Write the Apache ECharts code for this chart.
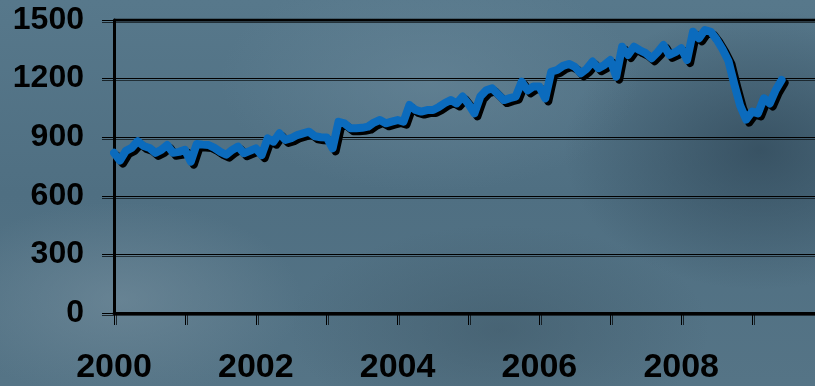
<!DOCTYPE html>
<html>
<head>
<meta charset="utf-8">
<script src="https://cdn.jsdelivr.net/npm/echarts@6/dist/echarts.min.js"></script>
<style>
html,body{margin:0;padding:0;}
body{width:815px;height:386px;overflow:hidden;
background:
 radial-gradient(ellipse 260px 140px at 120px 300px, rgba(120,145,160,0.55), rgba(120,145,160,0) 70%),
 radial-gradient(ellipse 300px 160px at 430px 80px, rgba(110,140,158,0.45), rgba(110,140,158,0) 70%),
 radial-gradient(ellipse 280px 200px at 760px 150px, rgba(40,62,78,0.6), rgba(40,62,78,0) 70%),
 radial-gradient(ellipse 300px 150px at 500px 330px, rgba(60,85,100,0.5), rgba(60,85,100,0) 70%),
 linear-gradient(180deg, #57788b 0%, #4f6f82 50%, #557486 100%);}
#chart{width:815px;height:386px;}
</style>
</head>
<body>
<div id="chart"></div>
<script>
const startYear = 2000;
const yTicks = [0, 300, 600, 900, 1200, 1500];
const xLabelYears = [2000, 2002, 2004, 2006, 2008];
// monthly values from Jan 2000 to Jun 2009
const values = [
 820, 780, 830, 845, 880, 855, 845, 820, 835, 860, 820, 825,
 835, 775, 865, 862, 860, 845, 825, 810, 835, 852, 818, 830,
 843, 809, 894, 877, 920, 886, 895, 911, 920, 928, 905, 900,
 899, 843, 979, 971, 946, 946, 948, 954, 975, 988, 971, 980,
 988, 979, 1065, 1040, 1031, 1039, 1039, 1055, 1075, 1090, 1073, 1108,
 1070, 1022, 1108, 1140, 1150, 1120, 1090, 1100, 1108, 1184, 1140, 1160,
 1159, 1099, 1235, 1244, 1265, 1275, 1260, 1227, 1250, 1287, 1253, 1270,
 1295, 1210, 1363, 1321, 1363, 1345, 1330, 1304, 1335, 1372, 1321, 1335,
 1355, 1295, 1440, 1406, 1449, 1440, 1400, 1350, 1290, 1170, 1060, 990,
 1031, 1022, 1099, 1073, 1142, 1193
];
const seriesData = values.map((v, i) => [startYear + i / 12, v]);

const chart = echarts.init(document.getElementById('chart'), null, {renderer: 'canvas'});
const shadowText = {
  color: '#000', fontFamily: 'Liberation Sans, Arial, sans-serif', fontWeight: 'bold',
  textShadowColor: 'rgba(40,40,40,0.9)', textShadowOffsetX: 2, textShadowOffsetY: 2, textShadowBlur: 0
};
chart.setOption({
  backgroundColor: 'transparent',
  animation: false,
  grid: {left: 114, top: 20, width: 709, height: 293, containLabel: false, outerBoundsMode: 'none'},
  xAxis: {
    type: 'value', min: 2000, max: 2010, interval: 1,
    axisLine: {show: true, onZero: false, lineStyle: {color: '#000', width: 3}},
    axisTick: {show: true, length: 12, lineStyle: {color: '#000', width: 1, shadowColor: 'rgba(0,0,0,0.7)', shadowOffsetX: 2}},
    splitLine: {show: false},
    axisLabel: Object.assign({
      fontSize: 34, margin: 38, hideOverlap: false, showMaxLabel: false,
      formatter: v => xLabelYears.indexOf(Math.round(v)) >= 0 && Math.abs(v - Math.round(v)) < 1e-6 ? String(Math.round(v)) : ''
    }, shadowText)
  },
  yAxis: {
    type: 'value', min: yTicks[0], max: yTicks[yTicks.length - 1], interval: 300,
    axisLine: {show: true, lineStyle: {color: '#000', width: 3}},
    axisTick: {show: true, length: 12, lineStyle: {color: '#000', width: 1, shadowColor: 'rgba(0,0,0,0.7)', shadowOffsetY: 2}},
    splitLine: {show: true, lineStyle: {color: '#000', width: 1, shadowColor: 'rgba(0,0,0,0.6)', shadowOffsetY: 2, shadowBlur: 0}},
    axisLabel: Object.assign({fontSize: 32, margin: 30, formatter: v => String(v)}, shadowText)
  },
  series: [{
    type: 'line', data: seriesData, showSymbol: false, smooth: false,
    lineStyle: {color: '#0b6bbd', width: 8, shadowColor: '#000', shadowOffsetX: 3, shadowOffsetY: 3, shadowBlur: 0, join: 'round', cap: 'round'}
  }, {
    type: 'line', data: [[2000, 1500], [2010, 1500]], showSymbol: false, silent: true,
    lineStyle: {color: '#000', width: 3}
  }]
});
</script>
</body>
</html>
